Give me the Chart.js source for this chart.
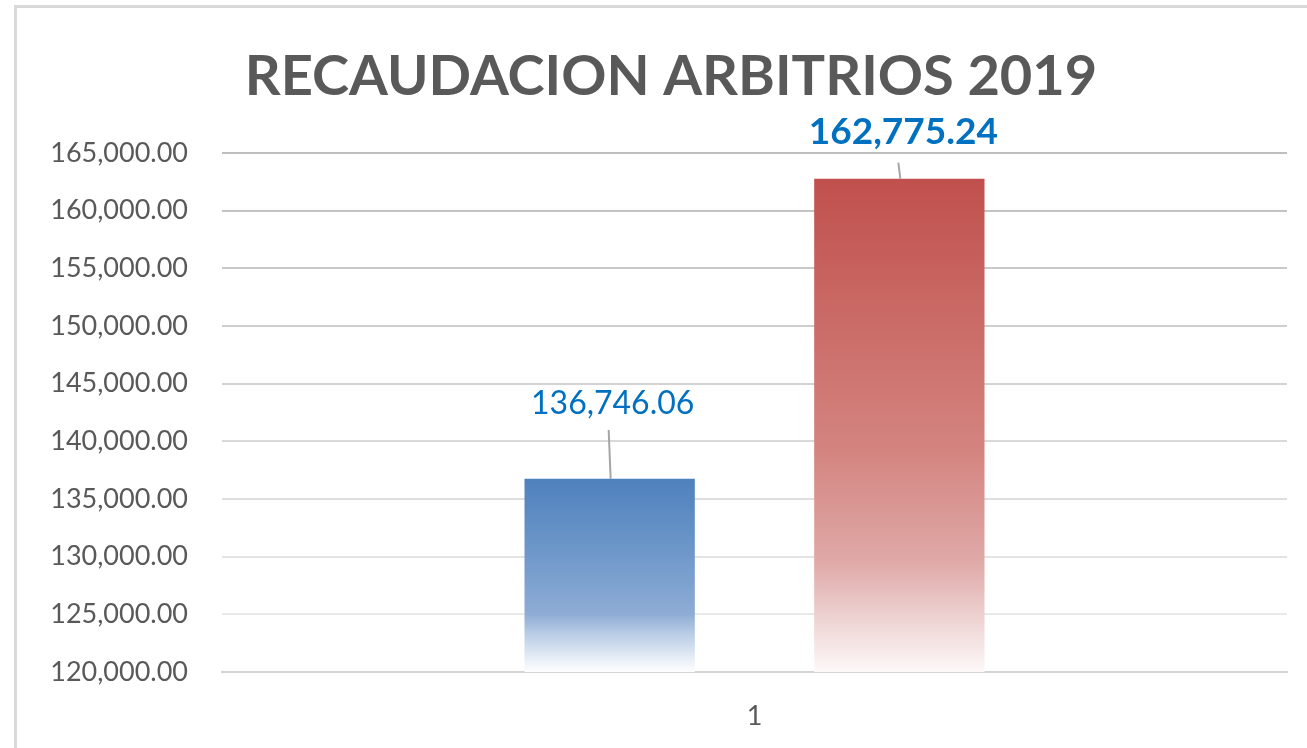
<!DOCTYPE html>
<html>
<head>
<meta charset="utf-8">
<script src="https://cdn.jsdelivr.net/npm/chart.js@4.4.1/dist/chart.umd.min.js"></script>
<style>
    html, body { margin: 0; padding: 0; background: #fff; overflow: hidden; }
    #frame {
        position: absolute; left: 14px; top: 5px; width: 1400px; height: 800px;
        border-left: 3px solid #d9d9d9; border-top: 3px solid #d9d9d9;
    }
    #chart { position: absolute; left: 0; top: 0; }
</style>
</head>
<body>
<div id="frame"></div>
<canvas id="chart" width="1307" height="748"></canvas>
<script>
const categories = ['1'];
const seriesNames = ['Serie 1', 'Serie 2'];
const seriesValues = [136746.06, 162775.24];
const labelTexts = ['136,746.06', '162,775.24'];
const yMin = 120000;
const yMax = 165000;
const yStep = 5000;

const titleText = 'RECAUDACION ARBITRIOS 2019';

// gradient stops for each bar, top -> bottom
const gradients = [
    [[0, '#4f81bd'], [0.35, '#6b96c8'], [0.7, '#8eacd5'], [0.8, '#b8cce5'], [0.95, '#eef3f9'], [1, '#fcfdfe']],
    [[0, '#c0504d'], [0.55, '#d4847f'], [0.78, '#dfaaa8'], [0.9, '#eed6d5'], [1, '#fdf8f8']]
];

function barGradient(context, idx) {
    const chart = context.chart;
    if (!chart.chartArea) return gradients[idx][0][1];
    const y = chart.scales.y;
    const top = y.getPixelForValue(seriesValues[idx]);
    const bottom = y.getPixelForValue(yMin);
    const g = chart.ctx.createLinearGradient(0, top, 0, bottom);
    gradients[idx].forEach(function(s) { g.addColorStop(s[0], s[1]); });
    return g;
}

// grid lines fade from darker at top to lighter at bottom
function gridColor(context) {
    const v = context.tick ? context.tick.value : yMin;
    const t = (v - yMin) / (yMax - yMin);
    const c = Math.round(238 - t * 48);
    return 'rgb(' + c + ',' + c + ',' + c + ')';
}

const titlePlugin = {
    id: 'excelTitle',
    afterDraw(chart) {
        const ctx = chart.ctx;
        ctx.save();
        ctx.font = 'bold 56px Lato';
        ctx.fillStyle = '#595959';
        ctx.textAlign = 'center';
        ctx.textBaseline = 'alphabetic';
        ctx.fillText(titleText, 671, 95);
        ctx.restore();
    }
};

// data labels with leader lines, like Excel
const labelStyle = [
    { font: '32px Lato', textGap: 65, lineGap: 49, dx: 3 },
    { font: 'bold 37px Lato', textGap: 35, lineGap: 16, dx: 4 }
];

const labelsPlugin = {
    id: 'barLabels',
    afterDatasetsDraw(chart) {
        const ctx = chart.ctx;
        ctx.save();
        chart.data.datasets.forEach(function(ds, i) {
            const bar = chart.getDatasetMeta(i).data[0];
            const st = labelStyle[i];
            ctx.strokeStyle = '#a6a6a6';
            ctx.lineWidth = 2;
            ctx.beginPath();
            ctx.moveTo(bar.x - 1, bar.y - st.lineGap);
            ctx.lineTo(bar.x + 1, bar.y);
            ctx.stroke();
            ctx.font = st.font;
            ctx.fillStyle = '#0070c0';
            ctx.textAlign = 'center';
            ctx.textBaseline = 'alphabetic';
            ctx.fillText(labelTexts[i], bar.x + st.dx, bar.y - st.textGap);
        });
        ctx.restore();
    }
};

new Chart(document.getElementById('chart'), {
    type: 'bar',
    data: {
        labels: categories,
        datasets: seriesValues.map(function(v, i) {
            return {
                label: seriesNames[i],
                data: [v],
                backgroundColor: function(c) { return barGradient(c, i); },
                categoryPercentage: 0.544,
                barPercentage: 0.588
            };
        })
    },
    options: {
        responsive: false,
        animation: false,
        layout: { padding: { top: 153, right: 20, left: 0, bottom: 0 } },
        plugins: {
            legend: { display: false },
            tooltip: { enabled: false },
            title: { display: false }
        },
        scales: {
            x: {
                grid: { display: false },
                border: { color: '#d4d4d4', width: 2 },
                ticks: { color: '#595959', font: { family: 'Lato', size: 27 }, padding: 20 },
                afterFit(scale) { scale.height = 76; }
            },
            y: {
                min: yMin,
                max: yMax,
                border: { display: false },
                grid: { color: gridColor, lineWidth: 2, drawTicks: false },
                ticks: {
                    stepSize: yStep,
                    color: '#595959',
                    font: { family: 'Lato', size: 27 },
                    padding: 34,
                    callback: function(v) {
                        return v.toLocaleString('en-US', { minimumFractionDigits: 2, maximumFractionDigits: 2 });
                    }
                },
                afterFit(scale) { scale.width = 222; }
            }
        }
    },
    plugins: [titlePlugin, labelsPlugin]
});
</script>
</body>
</html>
